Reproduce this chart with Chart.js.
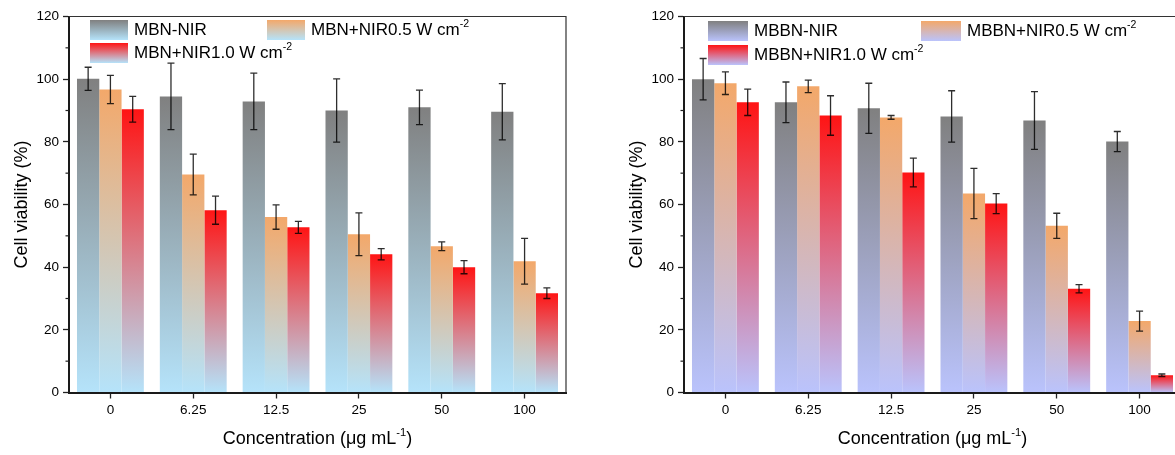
<!DOCTYPE html>
<html>
<head>
<meta charset="utf-8">
<script src="https://cdn.jsdelivr.net/npm/chart.js@4.4.1/dist/chart.umd.min.js"></script>
<style>
  html, body { margin: 0; padding: 0; background: #fff; width: 1175px; height: 455px; overflow: hidden; }
  .panel { position: absolute; top: 0; width: 600px; height: 455px; }
</style>
</head>
<body>
<div class="panel" style="left:0"><canvas id="leftChart" width="600" height="455"></canvas></div>
<div class="panel" style="left:600px"><canvas id="rightChart" width="600" height="455"></canvas></div>
<script>
// Concentration groups (µg/mL)
const categories = ['0', '6.25', '12.5', '25', '50', '100'];

// Left panel: MBN
const mbnLabels = ['MBN-NIR', 'MBN+NIR0.5 W cm^-2', 'MBN+NIR1.0 W cm^-2'];
const mbnNir = [100.1, 94.5, 92.9, 90.0, 91.0, 89.6];
const mbnNirErr = [3.7, 10.6, 9.0, 10.1, 5.5, 9.0];
const mbnNir05 = [96.7, 69.6, 56.0, 50.5, 46.7, 41.9];
const mbnNir05Err = [4.5, 6.5, 3.9, 6.8, 1.4, 7.3];
const mbnNir10 = [90.4, 58.2, 52.7, 44.1, 40.0, 31.7];
const mbnNir10Err = [4.1, 4.5, 1.9, 1.8, 2.1, 1.7];

// Right panel: MBBN
const mbbnLabels = ['MBBN-NIR', 'MBBN+NIR0.5 W cm^-2', 'MBBN+NIR1.0 W cm^-2'];
const mbbnNir = [100.0, 92.6, 90.7, 88.1, 86.8, 80.1];
const mbbnNirErr = [6.6, 6.5, 8.0, 8.2, 9.2, 3.2];
const mbbnNir05 = [98.7, 97.7, 87.8, 63.5, 53.2, 22.8];
const mbbnNir05Err = [3.6, 2.0, 0.6, 8.0, 4.0, 3.2];
const mbbnNir10 = [92.6, 88.4, 70.2, 60.3, 33.1, 5.5];
const mbbnNir10Err = [4.2, 6.3, 4.6, 3.2, 1.3, 0.4];

const yTicks = [0, 20, 40, 60, 80, 100, 120];

const FONT = '"Liberation Sans", Arial, Helvetica, sans-serif';
const TOPS = ['#808080', '#f3a86a', '#ff1414'];

// text with ^sup^ parts
function drawRich(ctx, x, y, text, size, align) {
  const parts = text.split('^');
  const supSize = size * 0.62;
  let total = 0;
  parts.forEach((p, i) => {
    ctx.font = (i % 2 ? supSize : size) + 'px ' + FONT;
    total += ctx.measureText(p).width;
  });
  let cx = align === 'center' ? x - total / 2 : x;
  ctx.textAlign = 'left';
  ctx.textBaseline = 'middle';
  ctx.fillStyle = '#000';
  parts.forEach((p, i) => {
    const sup = i % 2 === 1;
    ctx.font = (sup ? supSize : size) + 'px ' + FONT;
    ctx.fillText(p, cx, sup ? y - size * 0.36 : y);
    cx += ctx.measureText(p).width;
  });
}

function barFill(c, top, bottom) {
  const chart = c.chart;
  if (c.type !== 'data' || !chart.chartArea) return top;
  const ys = chart.scales.y;
  const y0 = ys.getPixelForValue(c.parsed.y);
  const y1 = ys.getPixelForValue(0);
  if (!isFinite(y0) || !isFinite(y1) || y1 - y0 < 1) return top;
  const g = chart.ctx.createLinearGradient(0, y0, 0, y1);
  g.addColorStop(0, top);
  g.addColorStop(1, bottom);
  return g;
}

const decoPlugin = {
  id: 'deco',
  afterDatasetsDraw(chart) {
    const ctx = chart.ctx, ys = chart.scales.y;
    ctx.save();
    ctx.strokeStyle = 'rgba(0,0,0,0.82)';
    ctx.lineWidth = 1.3;
    chart.data.datasets.forEach((ds, i) => {
      chart.getDatasetMeta(i).data.forEach((bar, j) => {
        const v = ds.data[j], e = ds.errors[j];
        const t = ys.getPixelForValue(v + e), b = ys.getPixelForValue(v - e);
        ctx.beginPath();
        ctx.moveTo(bar.x, t); ctx.lineTo(bar.x, b);
        ctx.moveTo(bar.x - 3.5, t); ctx.lineTo(bar.x + 3.5, t);
        ctx.moveTo(bar.x - 3.5, b); ctx.lineTo(bar.x + 3.5, b);
        ctx.stroke();
      });
    });
    ctx.restore();
  },
  afterDraw(chart, args, o) {
    const ctx = chart.ctx, a = chart.chartArea, ys = chart.scales.y;
    ctx.save();
    // frame top + right
    ctx.strokeStyle = '#333';
    ctx.lineWidth = 1.2;
    ctx.beginPath();
    ctx.moveTo(a.left, a.top);
    ctx.lineTo(a.right, a.top);
    ctx.lineTo(a.right, a.bottom);
    ctx.stroke();
    // minor ticks
    ctx.strokeStyle = '#222';
    for (let v = 10; v < 120; v += 20) {
      const py = ys.getPixelForValue(v);
      ctx.beginPath();
      ctx.moveTo(a.left - 3.5, py);
      ctx.lineTo(a.left, py);
      ctx.stroke();
    }
    // legend
    chart.data.datasets.forEach((ds, i) => {
      const pos = o.legendPos[i];
      const x = a.left + pos[0], y = a.top + pos[1];
      const g = ctx.createLinearGradient(0, y, 0, y + o.swH);
      g.addColorStop(0, TOPS[i]);
      g.addColorStop(1, o.bottom);
      ctx.fillStyle = g;
      ctx.fillRect(x, y, o.swW, o.swH);
      drawRich(ctx, x + o.swW + 6, y + o.swH / 2 + 0.5, ds.label, 17, 'left');
    });
    // x title
    drawRich(ctx, (a.left + a.right) / 2, a.bottom + 46.5, 'Concentration (\u03bcg mL^-1^)', 18, 'center');
    ctx.restore();
  }
};

function makePanel(id, cfg) {
  return new Chart(document.getElementById(id), {
    type: 'bar',
    data: {
      labels: categories,
      datasets: cfg.series.map((s, i) => ({
        label: cfg.labels[i],
        data: s,
        errors: cfg.errors[i],
        backgroundColor: (c) => barFill(c, TOPS[i], cfg.bottom),
        borderWidth: 0,
        categoryPercentage: 0.807,
        barPercentage: 1,
      })),
    },
    options: {
      responsive: false,
      animation: false,
      layout: { padding: { top: 16.5, right: cfg.padRight, left: 0, bottom: 0 } },
      plugins: {
        legend: { display: false },
        tooltip: { enabled: false },
        deco: { legendPos: cfg.legendPos, swW: cfg.swW, swH: 20, bottom: cfg.bottom },
      },
      scales: {
        x: {
          afterFit: (s) => { s.height = 62.5; },
          grid: { display: true, drawOnChartArea: false, offset: false, tickLength: 6, tickWidth: 1.3, tickColor: '#222' },
          border: { display: true, width: 2, color: '#1a1a1a' },
          ticks: { color: '#000', font: { family: FONT, size: 13.5 }, padding: 4, maxRotation: 0 },
        },
        y: {
          min: 0,
          max: 120,
          afterFit: (s) => { s.width = cfg.yWidth; },
          afterBuildTicks: (s) => { s.ticks = yTicks.map((v) => ({ value: v })); },
          grid: { display: true, drawOnChartArea: false, tickLength: 6, tickWidth: 1.3, tickColor: '#222' },
          border: { display: true, width: 2, color: '#1a1a1a' },
          ticks: { color: '#000', font: { family: FONT, size: 13.5 }, padding: 4 },
          title: { display: true, text: 'Cell viability (%)', color: '#000', font: { family: FONT, size: 18 }, padding: { top: cfg.titlePad, bottom: 0 } },
        },
      },
    },
    plugins: [decoPlugin],
  });
}

makePanel('leftChart', {
  labels: mbnLabels,
  series: [mbnNir, mbnNir05, mbnNir10],
  errors: [mbnNirErr, mbnNir05Err, mbnNir10Err],
  bottom: '#b5e3fa',
  padRight: 34,
  yWidth: 69,
  titlePad: 11,
  swW: 38,
  legendPos: [[21, 3.5], [198, 3.5], [21, 26.5]],
});

makePanel('rightChart', {
  labels: mbbnLabels,
  series: [mbbnNir, mbbnNir05, mbbnNir10],
  errors: [mbbnNirErr, mbbnNir05Err, mbbnNir10Err],
  bottom: '#bac3fc',
  padRight: 19,
  yWidth: 84,
  titlePad: 26,
  swW: 40,
  legendPos: [[24, 4.5], [237, 4.5], [24, 28.5]],
});
</script>
</body>
</html>
